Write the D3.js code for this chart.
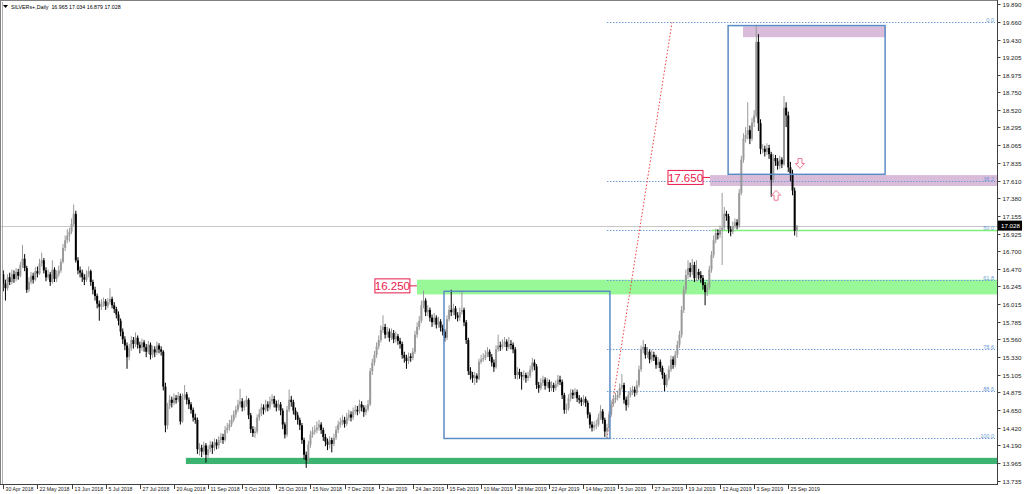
<!DOCTYPE html>
<html><head><meta charset="utf-8">
<script src="https://cdn.jsdelivr.net/npm/d3@7"></script>
<style>html,body{margin:0;padding:0;background:#fff;}svg{display:block;font-family:"Liberation Sans",Arial,sans-serif;}</style>
</head><body><svg id="c" width="1024" height="494"></svg>
<script>
const symbolTitle = "SILVERs+,Daily  16.965 17.034 16.879 17.028";
const dateLabels = ["30 Apr 2018","22 May 2018","13 Jun 2018","5 Jul 2018","27 Jul 2018","20 Aug 2018","11 Sep 2018","3 Oct 2018","25 Oct 2018","15 Nov 2018","7 Dec 2018","2 Jan 2019","24 Jan 2019","15 Feb 2019","10 Mar 2019","28 Mar 2019","22 Apr 2019","14 May 2019","5 Jun 2019","27 Jun 2019","19 Jul 2019","12 Aug 2019","3 Sep 2019","25 Sep 2019"];
const yTicks = [19.890,19.660,19.430,19.205,18.975,18.750,18.520,18.295,18.065,17.835,17.610,17.380,17.155,16.925,16.700,16.470,16.245,16.015,15.785,15.560,15.330,15.105,14.875,14.650,14.420,14.190,13.965,13.735];
const lastPrice = 17.028;

const open = [
16.40,16.28,16.22,16.36,16.30,16.40,16.34,16.43,16.38,16.52,
16.60,16.48,16.20,16.30,16.38,16.33,16.44,16.41,16.54,16.58,
16.45,16.36,16.40,16.30,16.46,16.34,16.40,16.45,16.56,16.74,
16.84,16.90,16.95,17.05,17.18,16.58,16.45,16.42,16.36,16.33,
16.40,16.44,16.30,16.20,16.12,16.02,15.98,16.02,16.05,15.99,
16.04,16.08,16.00,15.95,15.88,15.80,15.66,15.56,15.48,15.33,
15.45,15.55,15.50,15.58,15.49,15.45,15.52,15.46,15.40,15.49,
15.36,15.43,15.39,15.48,15.43,15.40,14.95,14.45,14.70,14.78,
14.74,14.80,14.78,14.83,14.50,14.81,14.85,14.78,14.72,14.65,
14.55,14.52,14.14,14.16,14.11,14.19,14.07,14.14,14.20,14.16,
14.23,14.19,14.26,14.30,14.26,14.39,14.42,14.46,14.52,14.59,
14.65,14.72,14.76,14.68,14.72,14.78,14.58,14.40,14.35,14.37,
14.55,14.60,14.68,14.65,14.72,14.68,14.76,14.79,14.73,14.68,
14.72,14.64,14.46,14.33,14.65,14.78,14.75,14.64,14.58,14.52,
14.45,14.26,14.07,14.00,14.20,14.33,14.37,14.39,14.42,14.46,
14.39,14.30,14.24,14.20,14.26,14.21,14.29,14.39,14.46,14.49,
14.52,14.47,14.55,14.59,14.55,14.63,14.65,14.63,14.72,14.68,
14.62,14.66,14.72,15.15,15.26,15.36,15.47,15.55,15.68,15.72,
15.62,15.66,15.58,15.64,15.56,15.60,15.54,15.50,15.36,15.32,
15.28,15.34,15.32,15.40,15.62,15.72,15.80,16.00,16.06,15.91,
15.94,15.84,15.78,15.84,15.75,15.79,15.71,15.66,15.58,15.82,
15.94,15.91,15.96,15.87,15.84,15.91,15.94,15.78,15.55,15.15,
15.10,15.06,15.09,15.05,15.27,15.30,15.32,15.36,15.40,15.33,
15.26,15.20,15.43,15.48,15.46,15.50,15.53,15.46,15.50,15.49,
15.43,15.10,15.14,15.10,15.08,15.10,15.06,15.09,15.17,15.26,
15.21,14.97,14.93,15.00,15.04,14.96,15.01,14.93,14.97,14.93,
14.98,15.04,15.01,14.84,14.65,14.67,14.80,14.87,14.84,14.88,
14.80,14.78,14.75,14.79,14.74,14.59,14.46,14.42,14.45,14.46,
14.55,14.63,14.52,14.37,14.42,14.59,14.72,14.78,14.81,14.84,
14.93,14.97,14.78,14.71,14.84,14.88,14.91,14.87,14.97,15.17,
15.43,15.46,15.36,15.40,15.30,15.36,15.33,15.23,15.27,15.19,
15.10,14.97,15.06,15.17,15.30,15.23,15.36,15.49,15.62,15.94,
16.20,16.39,16.48,16.43,16.52,16.35,16.43,16.39,16.35,16.26,
16.17,16.23,16.46,16.65,16.84,16.93,16.91,16.97,17.00,17.18,
17.15,16.98,16.95,17.02,17.07,17.03,17.45,17.88,18.15,18.20,
18.26,18.15,18.36,18.45,19.40,18.35,18.02,18.02,17.98,18.03,
17.95,17.62,17.90,17.86,17.80,17.88,17.82,18.55,18.45,17.78,
17.70,17.48,16.965];

const high = [
16.45,16.33,16.40,16.42,16.46,16.45,16.48,16.47,16.56,16.78,
16.66,16.51,16.36,16.43,16.42,16.49,16.50,16.60,16.68,16.61,
16.49,16.46,16.43,16.58,16.49,16.45,16.51,16.60,16.79,16.90,
16.98,17.00,17.12,17.30,17.22,16.62,16.50,16.46,16.40,16.45,
16.50,16.46,16.33,16.24,16.15,16.06,16.08,16.10,16.08,16.09,
16.22,16.11,16.04,15.98,15.92,15.83,15.70,15.60,15.52,15.50,
15.60,15.59,15.65,15.61,15.53,15.57,15.55,15.50,15.54,15.52,
15.48,15.47,15.53,15.51,15.47,15.42,15.00,14.74,14.84,14.82,
14.86,14.84,14.88,14.86,14.86,14.97,14.88,14.81,14.75,14.68,
14.60,14.55,14.22,14.20,14.24,14.22,14.19,14.25,14.24,14.28,
14.27,14.31,14.35,14.34,14.44,14.48,14.52,14.58,14.64,14.70,
14.78,14.92,14.80,14.77,14.83,14.80,14.61,14.44,14.43,14.59,
14.66,14.73,14.72,14.78,14.76,14.82,14.85,14.83,14.77,14.78,
14.75,14.67,14.49,14.70,14.91,14.83,14.78,14.68,14.62,14.55,
14.48,14.29,14.11,14.25,14.38,14.43,14.45,14.50,14.52,14.49,
14.42,14.34,14.28,14.31,14.29,14.34,14.44,14.51,14.55,14.58,
14.56,14.61,14.65,14.63,14.68,14.71,14.70,14.78,14.76,14.71,
14.71,14.78,15.19,15.31,15.41,15.52,15.61,15.74,15.87,15.76,
15.72,15.70,15.70,15.68,15.66,15.63,15.58,15.53,15.40,15.36,
15.39,15.38,15.45,15.67,15.78,15.86,16.06,16.19,16.09,16.00,
15.97,15.88,15.90,15.87,15.85,15.82,15.75,15.69,15.87,16.00,
16.20,16.02,15.99,15.91,15.97,16.19,15.97,15.81,15.58,15.20,
15.14,15.14,15.12,15.31,15.36,15.38,15.42,15.46,15.43,15.37,
15.30,15.48,15.62,15.53,15.56,15.59,15.56,15.59,15.55,15.52,
15.46,15.20,15.18,15.14,15.16,15.13,15.14,15.22,15.32,15.30,
15.24,15.01,15.06,15.09,15.07,15.06,15.04,15.02,15.00,15.03,
15.10,15.09,15.04,14.87,14.73,14.85,14.92,14.91,14.93,14.91,
14.84,14.81,14.84,14.82,14.77,14.62,14.50,14.50,14.52,14.60,
14.71,14.66,14.55,14.47,14.63,14.77,14.84,14.87,14.90,14.99,
15.11,15.00,14.82,14.89,14.94,14.96,14.95,15.03,15.22,15.48,
15.55,15.50,15.46,15.43,15.42,15.40,15.36,15.33,15.30,15.22,
15.13,15.11,15.22,15.35,15.34,15.41,15.54,15.67,15.99,16.25,
16.46,16.58,16.55,16.60,16.56,16.58,16.47,16.44,16.39,16.30,
16.29,16.51,16.70,16.90,16.99,16.98,17.03,17.45,17.27,17.22,
17.18,17.02,17.08,17.12,17.11,17.50,17.93,18.22,18.30,18.62,
18.32,18.42,18.52,19.62,19.50,18.40,18.08,18.06,18.09,18.07,
17.98,17.95,17.94,17.90,17.93,17.91,18.70,18.62,18.50,17.85,
17.75,17.52,17.034];

const low = [
16.18,16.06,16.19,16.26,16.27,16.29,16.31,16.33,16.36,16.48,
16.44,16.16,16.17,16.27,16.28,16.31,16.36,16.39,16.50,16.41,
16.31,16.33,16.25,16.28,16.30,16.30,16.37,16.42,16.54,16.70,
16.80,16.82,16.92,17.02,16.55,16.40,16.36,16.30,16.26,16.30,
16.36,16.25,16.14,16.06,15.96,15.80,15.94,15.98,15.94,15.96,
16.01,15.96,15.90,15.83,15.74,15.60,15.50,15.42,15.18,15.29,
15.41,15.44,15.46,15.44,15.38,15.41,15.40,15.33,15.37,15.30,
15.32,15.33,15.36,15.38,15.35,14.90,14.36,14.40,14.66,14.68,
14.71,14.73,14.75,14.46,14.48,14.78,14.72,14.66,14.60,14.50,
14.47,14.08,14.06,14.04,14.07,13.97,14.03,14.10,14.08,14.12,
14.14,14.15,14.22,14.21,14.24,14.35,14.38,14.43,14.49,14.55,
14.62,14.68,14.63,14.64,14.69,14.53,14.35,14.30,14.29,14.34,
14.51,14.57,14.59,14.62,14.63,14.65,14.72,14.68,14.63,14.64,
14.58,14.40,14.28,14.30,14.62,14.69,14.59,14.52,14.46,14.39,
14.21,14.01,13.90,13.97,14.16,14.29,14.33,14.35,14.38,14.34,
14.25,14.18,14.13,14.15,14.10,14.18,14.26,14.35,14.42,14.45,
14.42,14.44,14.51,14.50,14.52,14.59,14.58,14.60,14.63,14.56,
14.58,14.63,14.70,15.10,15.22,15.32,15.43,15.52,15.64,15.57,
15.58,15.53,15.55,15.51,15.52,15.49,15.44,15.31,15.26,15.18,
15.24,15.27,15.29,15.37,15.58,15.68,15.77,15.96,15.86,15.86,
15.79,15.72,15.74,15.70,15.71,15.66,15.61,15.53,15.55,15.79,
15.86,15.87,15.82,15.79,15.80,15.88,15.73,15.50,15.10,15.04,
15.00,14.97,15.00,15.03,15.24,15.27,15.29,15.33,15.28,15.21,
15.14,15.18,15.40,15.41,15.43,15.46,15.41,15.43,15.43,15.38,
15.05,15.04,15.05,14.91,15.03,15.00,15.02,15.06,15.14,15.16,
14.92,14.87,14.90,14.96,14.91,14.93,14.88,14.89,14.88,14.90,
14.95,14.97,14.79,14.60,14.60,14.64,14.76,14.79,14.80,14.75,
14.73,14.70,14.71,14.69,14.54,14.41,14.37,14.38,14.40,14.43,
14.52,14.47,14.30,14.28,14.39,14.56,14.69,14.74,14.77,14.80,
14.90,14.73,14.64,14.68,14.81,14.84,14.82,14.84,14.94,15.14,
15.38,15.31,15.32,15.25,15.27,15.28,15.18,15.19,15.14,15.05,
14.89,14.94,15.03,15.14,15.18,15.20,15.32,15.45,15.58,15.90,
16.15,16.34,16.36,16.39,16.30,16.31,16.33,16.29,16.20,16.00,
16.12,16.20,16.42,16.61,16.80,16.85,16.87,16.52,16.97,17.09,
16.93,16.89,16.92,16.99,16.98,17.00,17.42,17.84,18.10,18.14,
18.08,18.12,18.30,18.42,18.25,17.95,17.96,17.92,17.94,17.89,
17.40,17.58,17.80,17.75,17.76,17.77,17.80,18.30,17.72,17.60,
17.42,16.90,16.879];

const close = [
16.28,16.22,16.36,16.30,16.40,16.34,16.43,16.38,16.52,16.60,
16.48,16.20,16.30,16.38,16.33,16.44,16.41,16.54,16.58,16.45,
16.36,16.40,16.30,16.46,16.34,16.40,16.45,16.56,16.74,16.84,
16.90,16.95,17.05,17.18,16.58,16.45,16.42,16.36,16.33,16.40,
16.44,16.30,16.20,16.12,16.02,15.98,16.02,16.05,15.99,16.04,
16.08,16.00,15.95,15.88,15.80,15.66,15.56,15.48,15.33,15.45,
15.55,15.50,15.58,15.49,15.45,15.52,15.46,15.40,15.49,15.36,
15.43,15.39,15.48,15.43,15.40,14.95,14.45,14.70,14.78,14.74,
14.80,14.78,14.83,14.50,14.81,14.85,14.78,14.72,14.65,14.55,
14.52,14.14,14.16,14.11,14.19,14.07,14.14,14.20,14.16,14.23,
14.19,14.26,14.30,14.26,14.39,14.42,14.46,14.52,14.59,14.65,
14.72,14.76,14.68,14.72,14.78,14.58,14.40,14.35,14.37,14.55,
14.60,14.68,14.65,14.72,14.68,14.76,14.79,14.73,14.68,14.72,
14.64,14.46,14.33,14.65,14.78,14.75,14.64,14.58,14.52,14.45,
14.26,14.07,14.00,14.20,14.33,14.37,14.39,14.42,14.46,14.39,
14.30,14.24,14.20,14.26,14.21,14.29,14.39,14.46,14.49,14.52,
14.47,14.55,14.59,14.55,14.63,14.65,14.63,14.72,14.68,14.62,
14.66,14.72,15.15,15.26,15.36,15.47,15.55,15.68,15.72,15.62,
15.66,15.58,15.64,15.56,15.60,15.54,15.50,15.36,15.32,15.28,
15.34,15.32,15.40,15.62,15.72,15.80,16.00,16.06,15.91,15.94,
15.84,15.78,15.84,15.75,15.79,15.71,15.66,15.58,15.82,15.94,
15.91,15.96,15.87,15.84,15.91,15.94,15.78,15.55,15.15,15.10,
15.06,15.09,15.05,15.27,15.30,15.32,15.36,15.40,15.33,15.26,
15.20,15.43,15.48,15.46,15.50,15.53,15.46,15.50,15.49,15.43,
15.10,15.14,15.10,15.08,15.10,15.06,15.09,15.17,15.26,15.21,
14.97,14.93,15.00,15.04,14.96,15.01,14.93,14.97,14.93,14.98,
15.04,15.01,14.84,14.65,14.67,14.80,14.87,14.84,14.88,14.80,
14.78,14.75,14.79,14.74,14.59,14.46,14.42,14.45,14.46,14.55,
14.63,14.52,14.37,14.42,14.59,14.72,14.78,14.81,14.84,14.93,
14.97,14.78,14.71,14.84,14.88,14.91,14.87,14.97,15.17,15.43,
15.46,15.36,15.40,15.30,15.36,15.33,15.23,15.27,15.19,15.10,
14.97,15.06,15.17,15.30,15.23,15.36,15.49,15.62,15.94,16.20,
16.39,16.48,16.43,16.52,16.35,16.43,16.39,16.35,16.26,16.17,
16.23,16.46,16.65,16.84,16.93,16.91,16.97,17.00,17.18,17.15,
16.98,16.95,17.02,17.07,17.03,17.45,17.88,18.15,18.20,18.26,
18.15,18.36,18.45,19.40,18.35,18.02,18.02,17.98,18.03,17.95,
17.62,17.90,17.86,17.80,17.88,17.82,18.55,18.45,17.78,17.70,
17.48,16.96,17.028];

// Fibonacci retracement (anchors: bar index / price)
const fibLevels = [0, 38.2, 50, 61.8, 78.6, 88.6, 100];
const fibAnchorLow = {bar: 283, price: 14.28};
const fibAnchorHigh = {bar: 313.5, price: 19.65};

// drawn objects: bar ranges and prices
const rectBoxes = [
  {b0: 206.6, b1: 284.4, p0: 16.18, p1: 14.28},
  {b0: 339.8, b1: 413.4, p0: 19.61, p1: 17.69}
];
const zones = [
  {b0: 346.8, p0: 19.60, p1: 19.46, kind: "purple", toEdge: false, b1: 413.8},
  {b0: 331.3, p0: 17.68, p1: 17.54, kind: "purple", toEdge: true},
  {b0: 193.9, p0: 16.33, p1: 16.14, kind: "lightgreen", toEdge: true},
  {b0: 85.6, p0: 14.03, p1: 13.95, kind: "darkgreen", toEdge: true}
];
const priceTags = [
  {bar: 193.9, price: 16.25, text: "16.250"},
  {bar: 331.3, price: 17.65, text: "17.650"}
];
const arrowsUp = [{bar: 362.3, price: 17.42}];
const arrowsDown = [{bar: 373.5, price: 17.83}];
const greenLine = {b0: 332, price: 16.965};

const svg = d3.select("#c");
const W = 1024, H = 494;
const plotR = 997, plotB = 484;

const x = d3.scaleLinear().domain([0, close.length - 1]).range([3.3, 796.8]);
const y = d3.scaleLinear().domain([13.735, 19.890]).range([480.7, 3.9]);

svg.append("rect").attr("width", W).attr("height", H).attr("fill", "#fff");

const clip = svg.append("defs").append("clipPath").attr("id", "pc");
clip.append("rect").attr("x", 1).attr("y", 1).attr("width", plotR - 1).attr("height", plotB - 1);
const g = svg.append("g").attr("clip-path", "url(#pc)");

const zoneColor = {purple: "#d9bcd9", lightgreen: "#98f898", darkgreen: "#3cb371"};
zones.forEach(z => {
  const x0 = x(z.b0), x1 = z.toEdge ? plotR : x(z.b1);
  g.append("rect").attr("x", x0).attr("y", y(z.p0)).attr("width", x1 - x0)
    .attr("height", y(z.p1) - y(z.p0)).attr("fill", zoneColor[z.kind]);
});

// current price line
g.append("line").attr("x1", 0).attr("x2", plotR).attr("y1", Math.round(y(lastPrice)) + 0.5).attr("y2", Math.round(y(lastPrice)) + 0.5)
  .attr("stroke", "#c8c8c8").attr("stroke-width", 1);

// fib lines
const fibPrice = L => fibAnchorHigh.price - (fibAnchorHigh.price - fibAnchorLow.price) * L / 100;
fibLevels.forEach(L => {
  const py = Math.round(y(fibPrice(L))) + 0.5;
  g.append("line").attr("x1", x(fibAnchorLow.bar)).attr("x2", plotR - 2).attr("y1", py).attr("y2", py)
    .attr("stroke", "#6f9bd6").attr("stroke-width", 1).attr("stroke-dasharray", "1.5,1.5");
  g.append("text").attr("x", plotR - 3).attr("y", py - 1).attr("text-anchor", "end")
    .attr("font-size", 5.5).attr("fill", "#6f9bd6").text(L.toFixed(1));
});
// green 50% line
g.append("line").attr("x1", x(greenLine.b0)).attr("x2", plotR).attr("y1", y(greenLine.price)).attr("y2", y(greenLine.price))
  .attr("stroke", "#7ef07e").attr("stroke-width", 1.6);

// fib trend line
g.append("line").attr("x1", x(fibAnchorLow.bar)).attr("y1", y(fibAnchorLow.price))
  .attr("x2", x(fibAnchorHigh.bar)).attr("y2", y(fibAnchorHigh.price))
  .attr("stroke", "#f03c3c").attr("stroke-width", 1).attr("stroke-dasharray", "1.5,2");

// candles
const bullC = "#9a9a9a", bearC = "#000";
const bars = d3.range(close.length).map(i => ({i, o: open[i], h: high[i], l: low[i], c: close[i]}));
const cg = g.append("g");
cg.selectAll("line.w").data(bars).join("line").attr("class", "w")
  .attr("x1", d => x(d.i)).attr("x2", d => x(d.i))
  .attr("y1", d => y(Math.max(d.h, d.o, d.c))).attr("y2", d => y(Math.min(d.l, d.o, d.c)))
  .attr("stroke", d => d.c >= d.o ? bullC : bearC).attr("stroke-width", 1);
cg.selectAll("rect.b").data(bars).join("rect").attr("class", "b")
  .attr("x", d => x(d.i) - 1).attr("width", 2)
  .attr("y", d => y(Math.max(d.o, d.c)))
  .attr("height", d => Math.max(1, y(Math.min(d.o, d.c)) - y(Math.max(d.o, d.c))))
  .attr("fill", d => d.c >= d.o ? bullC : bearC);

// rectangles
rectBoxes.forEach(r => {
  g.append("rect").attr("x", x(r.b0)).attr("y", y(r.p0)).attr("width", x(r.b1) - x(r.b0))
    .attr("height", y(r.p1) - y(r.p0)).attr("fill", "none").attr("stroke", "#5b8cc4").attr("stroke-width", 1.5);
});

// price tags
const tagC = "#e8194b";
priceTags.forEach(t => {
  const ax = x(t.bar), ay = y(t.price);
  g.append("line").attr("x1", ax - 7).attr("x2", ax).attr("y1", ay).attr("y2", ay).attr("stroke", tagC).attr("stroke-width", 1);
  g.append("rect").attr("x", ax - 42).attr("y", ay - 7).attr("width", 35).attr("height", 14)
    .attr("fill", "#fff").attr("stroke", tagC).attr("stroke-width", 1);
  g.append("text").attr("x", ax - 24.5).attr("y", ay + 4.2).attr("text-anchor", "middle")
    .attr("font-size", 11.5).attr("fill", tagC).text(t.text);
});

// arrows
const arrowC = "#f07a92";
arrowsUp.forEach(a => {
  const ax = x(a.bar), ay = y(a.price);
  g.append("path").attr("d", `M${ax},${ay-5} L${ax+4.5},${ay} L${ax+2},${ay} L${ax+2},${ay+5} L${ax-2},${ay+5} L${ax-2},${ay} L${ax-4.5},${ay} Z`)
    .attr("fill", "#fff").attr("stroke", arrowC).attr("stroke-width", 1);
});
arrowsDown.forEach(a => {
  const ax = x(a.bar), ay = y(a.price);
  g.append("path").attr("d", `M${ax},${ay+5} L${ax+4.5},${ay} L${ax+2},${ay} L${ax+2},${ay-5} L${ax-2},${ay-5} L${ax-2},${ay} L${ax-4.5},${ay} Z`)
    .attr("fill", "#fff").attr("stroke", arrowC).attr("stroke-width", 1);
});

// frame
svg.append("line").attr("x1", 0.5).attr("x2", 0.5).attr("y1", 0).attr("y2", plotB).attr("stroke", "#808080");
svg.append("line").attr("x1", 2.5).attr("x2", 2.5).attr("y1", 2).attr("y2", plotB).attr("stroke", "#b0b0b0");
svg.append("line").attr("x1", 0).attr("x2", plotR).attr("y1", 0.5).attr("y2", 0.5).attr("stroke", "#808080");

// right price axis
const ax = svg.append("g").attr("transform", `translate(${plotR + 0.5},0)`);
ax.append("line").attr("x1", 0).attr("x2", 0).attr("y1", 0).attr("y2", plotB + 1).attr("stroke", "#404040");
yTicks.forEach(v => {
  const py = Math.round(y(v)) + 0.5;
  ax.append("line").attr("x1", 0).attr("x2", 3).attr("y1", py).attr("y2", py).attr("stroke", "#404040");
  ax.append("text").attr("x", 5).attr("y", py + 2.2).attr("font-size", 6.2).attr("fill", "#222").text(v.toFixed(3));
});
const lpY = y(lastPrice);
ax.append("rect").attr("x", 0.5).attr("y", lpY - 5).attr("width", 24).attr("height", 10).attr("fill", "#000");
ax.append("text").attr("x", 3.5).attr("y", lpY + 2.3).attr("font-size", 6.2).attr("fill", "#fff").text(lastPrice.toFixed(3));

// bottom date axis
const bx = svg.append("g");
bx.append("line").attr("x1", 0).attr("x2", plotR + 1).attr("y1", plotB + 0.5).attr("y2", plotB + 0.5).attr("stroke", "#404040");
dateLabels.forEach((lab, k) => {
  const px = Math.round(x(k * 16)) + 0.5;
  bx.append("line").attr("x1", px).attr("x2", px).attr("y1", plotB).attr("y2", plotB + 5).attr("stroke", "#404040");
  bx.append("text").attr("x", px + 2).attr("y", plotB + 7.3).attr("font-size", 5.2).attr("fill", "#222").text(lab);
});

// header
svg.append("path").attr("d", "M3,5 L8,5 L5.5,8 Z").attr("fill", "#000");
svg.append("text").attr("x", 11).attr("y", 8.8).attr("font-size", 5.3).attr("fill", "#000")
  .attr("xml:space", "preserve").style("white-space", "pre").text(symbolTitle);
</script></body></html>
